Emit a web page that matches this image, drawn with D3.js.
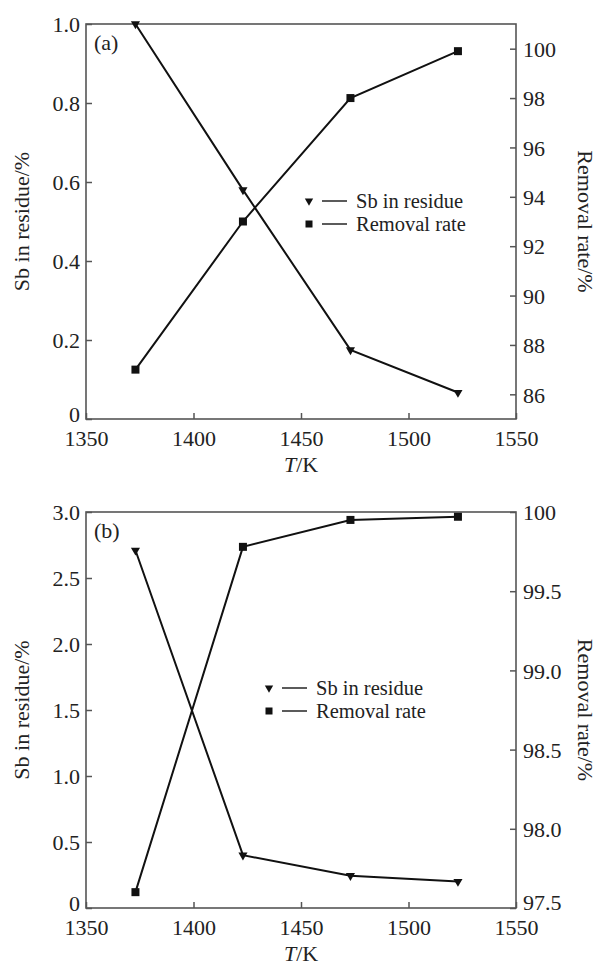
<!DOCTYPE html>
<html lang="en">
  <head>
    <meta charset="UTF-8" />
    <title>Sb in residue and removal rate vs T</title>
    <script src="https://d3js.org/d3.v7.min.js"></script>
    <style>
      body {
        margin: 0;
        background: #ffffff;
      }
    </style>
  </head>
  <body>
    <svg id="chart" width="604" height="967"></svg>

    <script>
      // data
      const temps = [1373, 1423, 1473, 1523];

      const sbA = [1.0, 0.58, 0.175, 0.067];
      const removalA = [87.0, 93.0, 98.0, 99.9];

      const sbB = [2.71, 0.4, 0.245, 0.2];
      const removalB = [97.6, 99.78, 99.95, 99.97];

      const xTicks = [1350, 1400, 1450, 1500, 1550];
      const leftTicksA = [0, 0.2, 0.4, 0.6, 0.8, 1.0];
      const rightTicksA = [86, 88, 90, 92, 94, 96, 98, 100];
      const leftTicksB = [0, 0.5, 1.0, 1.5, 2.0, 2.5, 3.0];
      const rightTicksB = [97.5, 98.0, 98.5, 99.0, 99.5, 100];

      const FONT = "'Liberation Serif', 'Times New Roman', 'DejaVu Serif', serif";
      const svg = d3.select('#chart');
      const left = 86,
        right = 516;
      const axisColor = '#555';
      const textColor = '#222';

      function txt(sel, size) {
        return sel
          .style('font-family', FONT)
          .style('font-size', size + 'px')
          .attr('fill', textColor);
      }

      function panel(opts) {
        const { top, bottom } = opts;
        const g = svg.append('g');

        const x = d3.scaleLinear().domain([1350, 1550]).range([left, right]);
        const yL = d3.scaleLinear().domain(opts.leftDomain).range([bottom, top]);
        const yR = d3.scaleLinear().domain(opts.rightDomain).range([bottom, top]);

        // frame
        g.append('rect')
          .attr('x', left)
          .attr('y', top)
          .attr('width', right - left)
          .attr('height', bottom - top)
          .attr('fill', 'none')
          .attr('stroke', axisColor)
          .attr('stroke-width', 1.6);

        // bottom axis, ticks inward
        const xAxis = g
          .append('g')
          .attr('transform', `translate(0,${bottom})`)
          .call(
            d3.axisTop(x).tickValues(xTicks).tickSize(6).tickFormat(d3.format('d')),
          );
        xAxis.select('.domain').remove();
        xAxis.selectAll('line').attr('stroke', axisColor).attr('stroke-width', 1.5);
        txt(xAxis.selectAll('text').attr('y', 27).attr('dy', 0), 22);

        // left axis
        const lAxis = g
          .append('g')
          .attr('transform', `translate(${left},0)`)
          .call(
            d3
              .axisRight(yL)
              .tickValues(opts.leftTicks)
              .tickSize(6)
              .tickFormat((d) => (d === 0 ? '0' : d3.format('.1f')(d))),
          );
        lAxis.select('.domain').remove();
        lAxis.selectAll('line').attr('stroke', axisColor).attr('stroke-width', 1.5);
        txt(
          lAxis
            .selectAll('text')
            .attr('x', -6)
            .attr('dy', (d) => (d === 0 ? '0.1em' : '0.35em'))
            .attr('text-anchor', 'end'),
          22,
        );

        // right axis
        const rAxis = g
          .append('g')
          .attr('transform', `translate(${right},0)`)
          .call(
            d3
              .axisLeft(yR)
              .tickValues(opts.rightTicks)
              .tickSize(6)
              .tickFormat(opts.rightFormat),
          );
        rAxis.select('.domain').remove();
        rAxis.selectAll('line').attr('stroke', axisColor).attr('stroke-width', 1.5);
        txt(
          rAxis
            .selectAll('text')
            .attr('x', 7)
            .attr('dy', (d) => (d === opts.rightDomain[0] ? '0.05em' : '0.35em'))
            .attr('text-anchor', 'start'),
          22,
        );

        // axis titles
        txt(
          g
            .append('text')
            .attr('transform', `translate(29,${(top + bottom) / 2}) rotate(-90)`)
            .attr('text-anchor', 'middle')
            .text('Sb in residue/%'),
          22,
        );

        txt(
          g
            .append('text')
            .attr('transform', `translate(578,${(top + bottom) / 2}) rotate(90)`)
            .attr('text-anchor', 'middle')
            .text('Removal rate/%'),
          22,
        );

        const xt = txt(
          g
            .append('text')
            .attr('x', (left + right) / 2)
            .attr('y', bottom + 53)
            .attr('text-anchor', 'middle'),
          22,
        );
        xt.append('tspan').style('font-style', 'italic').text('T');
        xt.append('tspan').text('/K');

        // panel label
        txt(
          g
            .append('text')
            .attr('x', left + 8)
            .attr('y', top + 26)
            .text(opts.label),
          22,
        );

        // series
        const lineL = d3
          .line()
          .x((d, i) => x(temps[i]))
          .y((d) => yL(d));
        const lineR = d3
          .line()
          .x((d, i) => x(temps[i]))
          .y((d) => yR(d));

        g.append('path')
          .datum(opts.sb)
          .attr('d', lineL)
          .attr('fill', 'none')
          .attr('stroke', '#111')
          .attr('stroke-width', 2);
        g.append('path')
          .datum(opts.removal)
          .attr('d', lineR)
          .attr('fill', 'none')
          .attr('stroke', '#111')
          .attr('stroke-width', 2);

        const tri = d3.symbol().type(d3.symbolTriangle).size(36);
        g.selectAll('.tri')
          .data(opts.sb)
          .join('path')
          .attr('class', 'tri')
          .attr('d', tri)
          .attr(
            'transform',
            (d, i) => `translate(${x(temps[i])},${yL(d)}) rotate(180)`,
          )
          .attr('fill', '#111');

        g.selectAll('.sq')
          .data(opts.removal)
          .join('rect')
          .attr('class', 'sq')
          .attr('x', (d, i) => x(temps[i]) - 4)
          .attr('y', (d) => yR(d) - 4)
          .attr('width', 8)
          .attr('height', 8)
          .attr('fill', '#111');

        // legend
        const rowGap = 23;
        const leg = g
          .append('g')
          .attr('transform', `translate(${opts.legendX},${opts.legendY})`);
        leg.append('path')
          .attr('d', d3.symbol().type(d3.symbolTriangle).size(30))
          .attr('transform', 'rotate(180)')
          .attr('fill', '#111');
        leg.append('line')
          .attr('x1', 13)
          .attr('x2', 38)
          .attr('y1', 0)
          .attr('y2', 0)
          .attr('stroke', '#333')
          .attr('stroke-width', 1.6);
        txt(leg.append('text').attr('x', 47).attr('y', 7).text('Sb in residue'), 20.5);

        leg.append('rect')
          .attr('x', -3.5)
          .attr('y', rowGap - 3.5)
          .attr('width', 7)
          .attr('height', 7)
          .attr('fill', '#111');
        leg.append('line')
          .attr('x1', 13)
          .attr('x2', 38)
          .attr('y1', rowGap)
          .attr('y2', rowGap)
          .attr('stroke', '#333')
          .attr('stroke-width', 1.6);
        txt(
          leg.append('text').attr('x', 47).attr('y', rowGap + 7).text('Removal rate'),
          20.5,
        );
      }

      panel({
        top: 24,
        bottom: 419,
        leftDomain: [0, 1.0],
        rightDomain: [85, 101],
        leftTicks: leftTicksA,
        rightTicks: rightTicksA,
        rightFormat: d3.format('d'),
        sb: sbA,
        removal: removalA,
        label: '(a)',
        legendX: 309,
        legendY: 201,
      });

      panel({
        top: 512,
        bottom: 908,
        leftDomain: [0, 3.0],
        rightDomain: [97.5, 100],
        leftTicks: leftTicksB,
        rightTicks: rightTicksB,
        rightFormat: (d) => (d === 100 ? '100' : d3.format('.1f')(d)),
        sb: sbB,
        removal: removalB,
        label: '(b)',
        legendX: 269,
        legendY: 688,
      });
    </script>
  </body>
</html>
